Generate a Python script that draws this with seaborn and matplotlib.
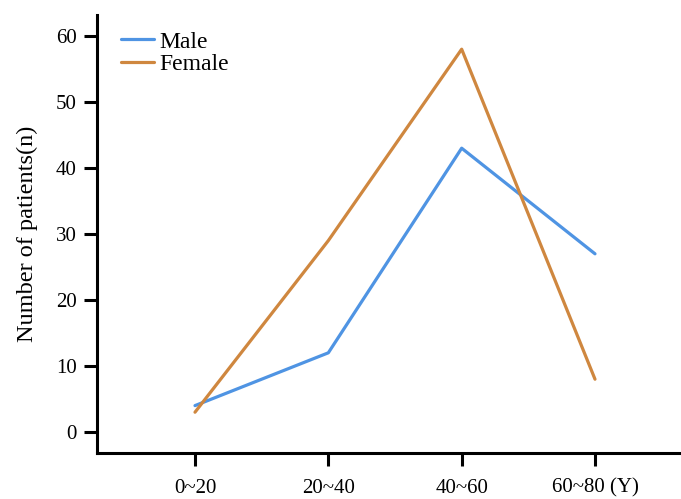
import pandas as pd
import matplotlib
matplotlib.use("Agg")
import matplotlib.pyplot as plt
import seaborn as sns

age_groups = ["0~20", "20~40", "40~60", "60~80 (Y)"]
male = [4, 12, 43, 27]
female = [3, 29, 58, 8]

df = pd.DataFrame({
    "Age": age_groups * 2,
    "Patients": male + female,
    "Sex": ["Male"] * 4 + ["Female"] * 4,
})

sns.set_style("ticks")
plt.rcParams["font.family"] = ["Liberation Serif", "DejaVu Serif"]
plt.rcParams["text.color"] = "black"
plt.rcParams["axes.labelcolor"] = "black"
plt.rcParams["xtick.color"] = "black"
plt.rcParams["ytick.color"] = "black"

fig = plt.figure(figsize=(6.81, 4.99), dpi=100)
ax = fig.add_axes([97 / 681, 46 / 499, 1 - 97 / 681, (453 - 15) / 499])

sns.lineplot(data=df, x="Age", y="Patients", hue="Sex", sort=False,
             palette={"Male": "#4f94e3", "Female": "#cf873f"},
             linewidth=2.3, ax=ax)

ax.set_xlim(-0.735, 3.645)
ax.set_ylim(-3.18, 63.18)
ax.set_yticks([0, 10, 20, 30, 40, 50, 60])
ax.set_xlabel("")
ax.set_ylabel("Number of patients(n)", fontsize=17.5, labelpad=13)
ax.tick_params(axis="both", labelsize=15, width=2.2, length=9.5,
               color="black", labelcolor="black")
ax.tick_params(axis="x", pad=9)
ax.tick_params(axis="y", pad=5)
for s in ["top", "right"]:
    ax.spines[s].set_visible(False)
for s in ["left", "bottom"]:
    ax.spines[s].set_linewidth(2.2)
    ax.spines[s].set_color("black")

ax.legend(loc="upper left", bbox_to_anchor=(0.041, 0.963), frameon=False,
          fontsize=17, handlelength=1.4, handletextpad=0.22, labelspacing=0.05,
          borderpad=0, borderaxespad=0)

fig.savefig("out.png", dpi=100)
